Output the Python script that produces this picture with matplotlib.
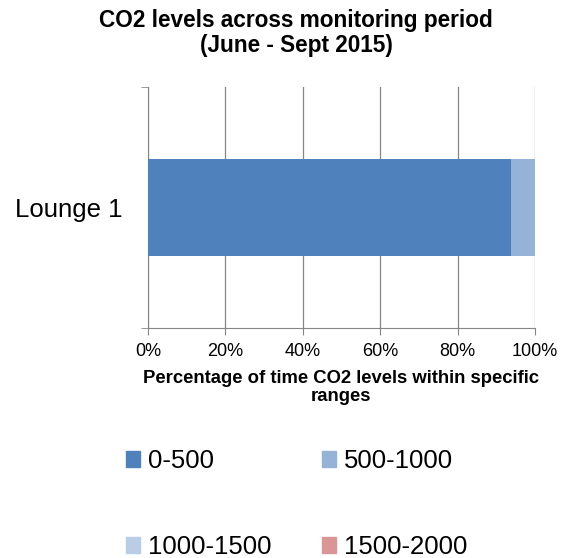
import matplotlib.pyplot as plt
from matplotlib.patches import Patch

plt.rcParams['font.family'] = ['Liberation Sans', 'DejaVu Sans']

# CO2 level bands and share of time spent in each
rooms = ['Lounge 1']
bands = ['0-500', '500-1000', '1000-1500', '1500-2000']
shares = [93.8, 6.2, 0.0, 0.0]
colours = ['#4F81BD', '#95B3D7', '#B9CDE5', '#D99694']
ticks = [0, 20, 40, 60, 80, 100]

fig = plt.figure(figsize=(5.67, 5.58), dpi=100)
ax = fig.add_axes([0.261, 0.4122, 0.6825, 0.4318])

left = 0
for band, val, col in zip(bands, shares, colours):
    ax.barh(0, val, left=left, height=0.405, color=col, label=band, zorder=3)
    left += val

ax.set_xlim(0, 100)
ax.set_ylim(-0.5, 0.5)
ax.set_xticks(ticks)
ax.set_xticklabels([f'{t}%' for t in ticks], fontsize=13)
ax.set_yticks([0])
ax.set_yticklabels(rooms, fontsize=18.5)
ax.set_yticks([-0.5, 0.5], minor=True)
ax.tick_params(axis='y', which='major', length=0, pad=18)
ax.tick_params(axis='y', which='minor', length=5, color='#868686')
ax.tick_params(axis='x', length=5, color='#868686', pad=6)

ax.grid(axis='x', color='#868686', linewidth=0.9, zorder=0)
for s in ['top', 'right']:
    ax.spines[s].set_visible(False)
for s in ['left', 'bottom']:
    ax.spines[s].set_color('#868686')

ax.set_xlabel('Percentage of time CO2 levels within specific\nranges',
              fontsize=13.3, fontweight='bold', labelpad=7, linespacing=1.05)
fig.suptitle('CO2 levels across monitoring period\n(June - Sept 2015)',
             fontsize=16.3, fontweight='bold', x=0.522, y=0.984, linespacing=1.1)

# legend, two per row
handles = [Patch(color=c) for c in colours]
order = [0, 2, 1, 3]
fig.legend([handles[i] for i in order], [bands[i] for i in order],
           ncol=2, loc='lower left', bbox_to_anchor=(0.182, -0.043),
           frameon=False, fontsize=18.5, handlelength=0.55, handleheight=0.55,
           handletextpad=0.3, columnspacing=1.95, labelspacing=2.4)

fig.savefig('out.png', dpi=100)
